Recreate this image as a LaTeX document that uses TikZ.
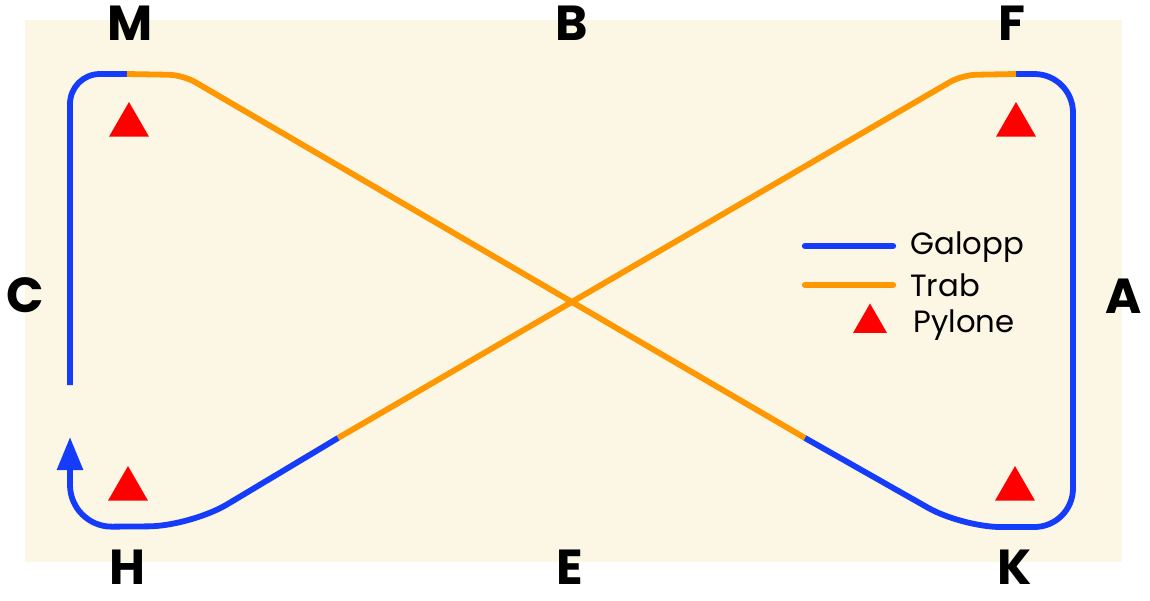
\documentclass[tikz,border=0pt]{standalone}
\usepackage{fontspec}
\setmainfont{Poppins}
\usetikzlibrary{shapes.geometric,arrows.meta}
\definecolor{arena}{RGB}{252,246,228}
\definecolor{galblue}{RGB}{20,60,250}
\definecolor{traborange}{RGB}{255,152,0}
\definecolor{pylred}{RGB}{255,0,0}

\begin{document}
\begin{tikzpicture}[x=0.02cm,y=-0.02cm,
    letter/.style={font=\fontsize{28}{28}\selectfont\bfseries,inner sep=0},
    legtext/.style={font=\fontsize{17.5}{17.5}\selectfont,anchor=west,inner sep=0},
    gal/.style={galblue,line width=3.3pt,rounded corners=17pt},
    trab/.style={traborange,line width=3.3pt,rounded corners=8pt},
    pylon/.style={regular polygon,regular polygon sides=3,fill=pylred,
      inner sep=0,minimum size=0.92cm}]
  \useasboundingbox (0,0) rectangle (1150,600);
  \fill[arena] (25,20) rectangle (1122,562);
  % arena letters
  \node[letter](m) at (130,23){M};
  \node[letter](b) at (572,23){B};
  \node[letter](f) at (1012,23){F};
  \node[letter](c) at (25,295){C};
  \node[letter](a) at (1124,296){A};
  \node[letter](h) at (127,567){H};
  \node[letter](e) at (570,567){E};
  \node[letter](k) at (1015,567){K};
  % pylons
  \node[pylon](pm) at (129,125){};
  \node[pylon](pf) at (1016,125){};
  \node[pylon](ph) at (128,489){};
  \node[pylon](pk) at (1015,489){};
  % change points of the figure eight
  \coordinate (start) at (70,385);
  \coordinate (mchg) at (127,74);
  \coordinate (kchg) at (805,438);
  \coordinate (fchg) at (1016,74);
  \coordinate (hchg) at (338,438);
  \coordinate (tip) at (70,437);
  \draw[gal] (start) -- (70,74) -- (mchg);
  \draw[trab] (mchg) -- (183,75) -- (kchg);
  \draw[gal,rounded corners=22pt] (kchg) -- (962,527) -- (1073,527)
    -- (1073,74) -- (fchg);
  \draw[trab] (fchg) -- (962,75) -- (hchg);
  \draw[gal,rounded corners=24pt,-{Triangle[length=0.66cm,width=0.5cm]}]
    (hchg) -- (191,526) -- (70,527) -- (tip);
  % legend
  \draw[galblue,line width=3.6pt,line cap=round] (805,246) -- (893,246);
  \draw[traborange,line width=3.6pt,line cap=round] (805,285) -- (893,285);
  \node[pylon,minimum size=0.78cm](lp) at (870,323){};
  \node[legtext](lgal) at (910,247){Galopp};
  \node[legtext](ltrab) at (910,285){Trab};
  \node[legtext](lpyl) at (913,325){Pylone};
\end{tikzpicture}
\end{document}
